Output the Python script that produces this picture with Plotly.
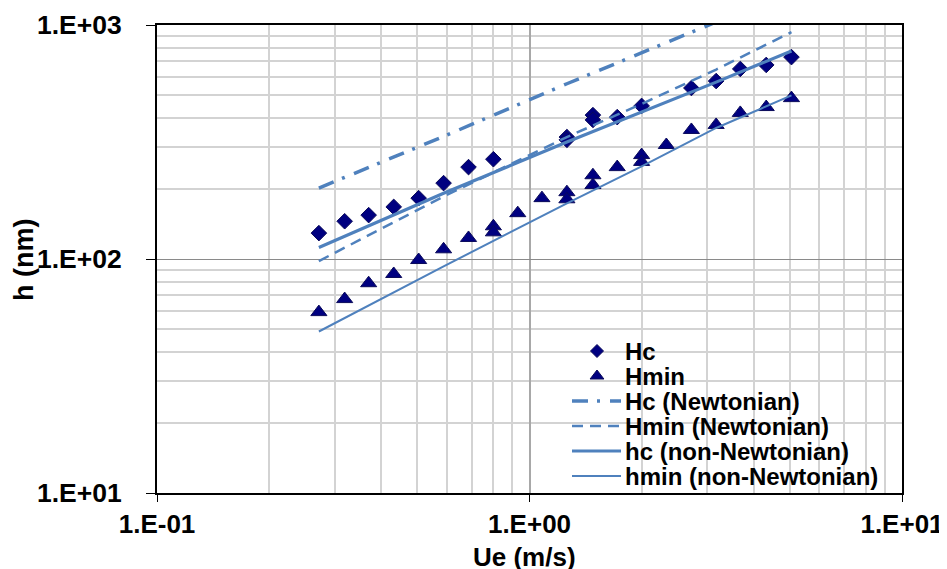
import plotly.graph_objects as go

# ---- data ----
ue_hc = [0.272, 0.319, 0.370, 0.432, 0.504, 0.588, 0.686, 0.800, 1.26, 1.26,
         1.48, 1.48, 1.72, 2.00, 2.72, 3.17, 3.68, 4.32, 5.05]
hc = [129, 145, 154, 167, 182, 211, 247, 267, 332, 323,
      412, 393, 404, 451, 538, 576, 649, 675, 729]

ue_hmin = [0.272, 0.319, 0.370, 0.432, 0.504, 0.588, 0.686, 0.800, 0.800, 0.93,
           1.08, 1.26, 1.26, 1.48, 1.48, 1.72, 2.00, 2.00, 2.33, 2.72,
           3.17, 3.68, 4.32, 5.05]
hmin = [59.3, 67.4, 78.8, 86.3, 99, 110, 123, 138, 130, 157,
        182, 193, 180, 228, 207, 247, 278, 260, 307, 356,
        374, 421, 446, 487]

ue_line = [0.272, 0.588, 1.26, 2.00, 3.17, 5.05]
hc_newt = [201, 334, 561, 759, 1030]          # continues above the 1.E+03 border
hmin_newt = [98, 185, 332, 460, 645, 933]
hc_nonnewt = [112, 191, 316, 425, 570, 775]
hmin_nonnewt = [49, 93, 173, 249, 363, 500]

x_tickvals = [0.1, 1, 10]
x_ticktext = ["1.E-01", "1.E+00", "1.E+01"]
y_tickvals = [10, 100, 1000]
y_ticktext = ["1.E+01", "1.E+02", "1.E+03"]

legend_names = ["Hc", "Hmin", "Hc (Newtonian)", "Hmin (Newtonian)",
                "hc (non-Newtonian)", "hmin (non-Newtonian)"]

FONT = "Liberation Sans, Arial, sans-serif"
LINE_C = "#4F81BD"
MARK_C = "#000080"
MARK_LINE = dict(color="#0a0a5a", width=1)

styles = [
    dict(kind="marker", symbol="diamond", size=12),
    dict(kind="marker", symbol="triangle-up", size=14),
    dict(kind="line", width=3.5, dash="16px,9px,3px,10px"),
    dict(kind="line", width=2.5, dash="11px,7px"),
    dict(kind="line", width=3.2, dash="solid"),
    dict(kind="line", width=2, dash="solid"),
]

fig = go.Figure()
fig.add_trace(go.Scatter(
    x=ue_hc, y=hc, mode="markers", name=legend_names[0], showlegend=False,
    marker=dict(symbol=styles[0]["symbol"], size=styles[0]["size"],
                color=MARK_C, line=MARK_LINE)))
fig.add_trace(go.Scatter(
    x=ue_hmin, y=hmin, mode="markers", name=legend_names[1], showlegend=False,
    marker=dict(symbol=styles[1]["symbol"], size=styles[1]["size"],
                color=MARK_C, line=MARK_LINE)))
for name, ys, st in zip(legend_names[2:], [hc_newt, hmin_newt, hc_nonnewt, hmin_nonnewt],
                        styles[2:]):
    fig.add_trace(go.Scatter(
        x=ue_line[:len(ys)], y=ys, mode="lines", name=name, showlegend=False,
        line=dict(color=LINE_C, width=st["width"], dash=st["dash"])))

# ---- plot-area geometry in page pixels (page has an 8px body margin) ----
OFF = 8
PL, PR, PT, PB = 157, 902, 25, 493
W, H = PR - PL, PB - PT


def px(xp):
    return (xp - PL) / W


def py(yp):
    return (PB - yp) / H


# white legend box covering the gridlines
fig.add_shape(type="rect", xref="paper", yref="paper",
              x0=px(560), x1=px(895), y0=py(492), y1=py(335),
              fillcolor="white", line=dict(width=0), layer="between")

row0, row_step = 351, 25
for i, (name, st) in enumerate(zip(legend_names, styles)):
    yc = py(row0 + i * row_step)
    if st["kind"] == "marker":
        fig.add_trace(go.Scatter(
            x=[px(597)], y=[yc], xaxis="x2", yaxis="y2", mode="markers",
            showlegend=False, hoverinfo="skip", cliponaxis=False,
            marker=dict(symbol=st["symbol"], size=st["size"] - 2, color=MARK_C,
                        line=MARK_LINE)))
    else:
        fig.add_shape(type="line", xref="paper", yref="paper",
                      x0=px(572), x1=px(621), y0=yc, y1=yc,
                      line=dict(color=LINE_C, width=st["width"], dash=st["dash"]))
    fig.add_annotation(text=name, xref="paper", yref="paper", x=px(623), y=yc,
                       xanchor="left", yanchor="middle", showarrow=False,
                       font=dict(family=FONT, size=24, color="black", weight="bold"))

minor_x = [k * 10 ** d for d in (-1, 0) for k in range(2, 10)]
minor_y = [k * 10 ** d for d in (1, 2) for k in range(2, 10)]

fig.update_xaxes(
    type="log", range=[-1, 1], automargin=False,
    tickmode="array", tickvals=x_tickvals, ticktext=x_ticktext,
    ticks="outside", ticklen=7, tickcolor="black", tickwidth=1,
    tickfont=dict(family=FONT, size=26, color="black", weight="bold"),
    ticklabelstandoff=0,
    showgrid=True, gridcolor="#a8a8a8", gridwidth=1.5,
    minor=dict(tickmode="array", tickvals=minor_x, showgrid=True,
               gridcolor="#d3d3d3", gridwidth=1.5, ticks=""),
    showline=True, linecolor="black", linewidth=2, mirror=True,
    zeroline=False,
)
fig.update_yaxes(
    type="log", range=[1, 3], automargin=False,
    tickmode="array", tickvals=y_tickvals, ticktext=y_ticktext,
    ticks="outside", ticklen=9, tickcolor="black", tickwidth=1,
    tickfont=dict(family=FONT, size=26.5, color="black", weight="bold"),
    ticklabelstandoff=19,
    showgrid=True, gridcolor="#8a8a8a", gridwidth=1,
    minor=dict(tickmode="array", tickvals=minor_y, showgrid=True,
               gridcolor="#d3d3d3", gridwidth=1.5, ticks=""),
    showline=True, linecolor="black", linewidth=2, mirror=True,
    zeroline=False,
)

fig.add_annotation(text="h (nm)", xref="paper", yref="paper", x=px(24), y=py(260),
                   textangle=-90, showarrow=False, xanchor="center", yanchor="middle",
                   font=dict(family=FONT, size=27, color="black", weight="bold"))
fig.add_annotation(text="Ue (m/s)", xref="paper", yref="paper", x=px(524), y=py(557),
                   showarrow=False, xanchor="center", yanchor="middle",
                   font=dict(family=FONT, size=26, color="black", weight="bold"))

FW, FH = 947, 569
fig.update_layout(
    width=FW, height=FH, autosize=False,
    margin=dict(l=PL - OFF, r=FW - (PR - OFF), t=PT - OFF, b=FH - (PB - OFF)),
    paper_bgcolor="white", plot_bgcolor="white",
    showlegend=False,
    xaxis2=dict(overlaying="x", range=[0, 1], visible=False, fixedrange=True),
    yaxis2=dict(overlaying="y", range=[0, 1], visible=False, fixedrange=True),
)

fig.write_html("out.html")
